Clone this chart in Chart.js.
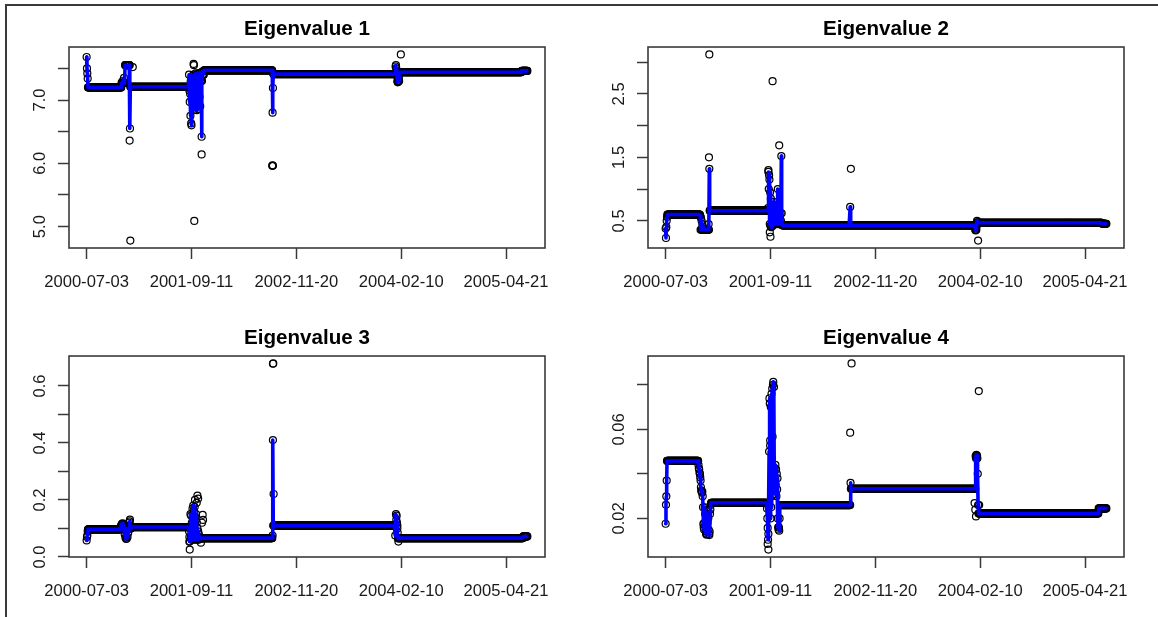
<!DOCTYPE html>
<html>
<head>
<meta charset="utf-8">
<script src="https://cdn.jsdelivr.net/npm/chart.js@4/dist/chart.umd.min.js"></script>
<style>
  html, body { margin: 0; padding: 0; background: #fff; }
  #page { position: relative; width: 1158px; height: 617px; overflow: hidden; }
  #page canvas { position: absolute; }
  #frame { position: absolute; left: 5px; top: 4px; width: 1200px; height: 700px;
           border-top: 2px solid #3a3a3a; border-left: 2px solid #3a3a3a; pointer-events: none; }
</style>
</head>
<body>
<div id="page">
  <canvas id="eig1" width="579" height="309" style="left:0;top:0"></canvas>
  <canvas id="eig2" width="579" height="309" style="left:579px;top:0"></canvas>
  <canvas id="eig3" width="579" height="309" style="left:0;top:309px"></canvas>
  <canvas id="eig4" width="579" height="309" style="left:579px;top:309px"></canvas>
  <div id="frame"></div>
</div>
<script>
// ---------------------------------------------------------------
// observations and axis labels
// ---------------------------------------------------------------
const N_OBS = 1262;

const xTickIdx = [1, 301, 601, 901, 1201];
const xTickLabels = ['2000-07-03', '2001-09-11', '2002-11-20', '2004-02-10', '2005-04-21'];

const titles = ['Eigenvalue 1', 'Eigenvalue 2', 'Eigenvalue 3', 'Eigenvalue 4'];

const yTicks1 = [5.0, 5.5, 6.0, 6.5, 7.0, 7.5];
const yLabels1 = ['5.0', '', '6.0', '', '7.0', ''];
const yTicks2 = [0.5, 1.0, 1.5, 2.0, 2.5, 3.0];
const yLabels2 = ['0.5', '', '1.5', '', '2.5', ''];
const yTicks3 = [0.0, 0.1, 0.2, 0.3, 0.4, 0.5, 0.6];
const yLabels3 = ['0.0', '', '0.2', '', '0.4', '', '0.6'];
const yTicks4 = [0.02, 0.04, 0.06, 0.08];
const yLabels4 = ['0.02', '', '0.06', ''];

// levels: [from, to, value] runs of a flat regime
// moves:  [index, value] observations that also carry the blue line
// outliers: [index, value] observations shown as circles only
const levels1 = [
  [1, 100, 7.20], [101, 110, 7.27], [111, 124, 7.55], [125, 292, 7.21],
  [293, 336, 7.40], [337, 532, 7.47], [533, 888, 7.41], [889, 1245, 7.44], [1246, 1262, 7.46]
];
const moves1 = [
  [1, 7.68], [2, 7.50], [3, 7.42], [4, 7.34], [104, 7.30], [108, 7.35], [125, 6.55],
  [293, 7.21], [295, 7.15], [296, 6.97], [297, 7.10], [298, 6.75], [299, 7.30], [300, 6.63],
  [301, 6.60], [302, 7.25], [303, 7.38], [304, 6.95], [305, 7.35], [306, 7.05], [307, 7.40],
  [308, 6.90], [309, 7.30], [310, 6.85], [311, 7.38], [312, 6.88], [313, 7.42], [314, 7.00],
  [315, 7.35], [316, 6.84], [317, 7.40], [318, 6.95], [319, 7.30], [320, 7.10], [321, 7.42],
  [322, 6.86], [323, 7.38], [324, 7.05], [325, 7.43], [326, 6.90], [327, 7.35], [328, 7.30],
  [329, 7.32], [330, 6.42], [331, 7.30], [332, 7.45],
  [533, 6.80], [534, 7.19],
  [885, 7.53], [886, 7.55], [887, 7.50], [888, 7.45], [889, 7.38], [890, 7.30], [891, 7.28],
  [892, 7.30], [893, 7.29], [894, 7.35], [895, 7.30], [896, 7.40]
];
const outliers1 = [
  [124, 6.36], [126, 4.78], [133, 7.52],
  [307, 7.57], [308, 7.55], [309, 5.09], [330, 6.14],
  [532, 5.96], [533, 5.97], [534, 5.96],
  [900, 7.72]
];

const levels2 = [
  [1, 99, 0.60], [100, 125, 0.36], [126, 292, 0.66], [293, 333, 0.60],
  [334, 887, 0.43], [888, 1249, 0.47], [1250, 1262, 0.455]
];
const moves2 = [
  [1, 0.38], [2, 0.23], [3, 0.40], [4, 0.50], [5, 0.56],
  [100, 0.58], [102, 0.55], [104, 0.50], [106, 0.45], [108, 0.40], [110, 0.37],
  [124, 0.45], [126, 1.32],
  [293, 0.66], [294, 0.70], [295, 1.27], [296, 1.00], [297, 1.22], [298, 1.15], [299, 0.45],
  [300, 0.95], [301, 0.42], [302, 0.85], [303, 0.40], [304, 0.80], [305, 0.45], [306, 0.75],
  [307, 0.42], [308, 0.70], [309, 0.44], [310, 0.80], [311, 0.48], [312, 0.62], [313, 0.45],
  [314, 0.75], [315, 0.50], [316, 0.60], [317, 0.45], [318, 0.70], [319, 0.48], [320, 0.62],
  [321, 0.45], [322, 1.00], [323, 0.50], [324, 0.62], [325, 0.45], [326, 0.60], [327, 0.48],
  [328, 0.55], [329, 0.45], [330, 0.62], [331, 0.50], [332, 1.52], [333, 0.62],
  [529, 0.72],
  [886, 0.40], [887, 0.36], [888, 0.35], [889, 0.38], [890, 0.36], [891, 0.42], [892, 0.50], [893, 0.48]
];
const outliers2 = [
  [125, 1.50], [126, 3.12],
  [295, 1.30], [299, 0.32], [301, 0.25], [307, 2.70], [326, 1.69],
  [531, 1.32],
  [895, 0.19]
];

const levels3 = [
  [1, 97, 0.097], [98, 128, 0.100], [129, 292, 0.105], [293, 330, 0.065],
  [331, 533, 0.066], [534, 889, 0.110], [890, 1249, 0.066], [1250, 1262, 0.072]
];
const moves3 = [
  [1, 0.058], [2, 0.070], [3, 0.075], [4, 0.090],
  [98, 0.105], [100, 0.112], [102, 0.116], [104, 0.118], [106, 0.112], [108, 0.095],
  [110, 0.080], [112, 0.068], [114, 0.063], [116, 0.065], [118, 0.070], [120, 0.085],
  [122, 0.100], [124, 0.125], [126, 0.110],
  [293, 0.105], [294, 0.090], [295, 0.070], [296, 0.055], [297, 0.100], [298, 0.150],
  [299, 0.070], [300, 0.145], [301, 0.060], [302, 0.120], [303, 0.065], [304, 0.170],
  [305, 0.060], [306, 0.180], [307, 0.065], [308, 0.160], [309, 0.070], [310, 0.175],
  [311, 0.065], [312, 0.140], [313, 0.060], [314, 0.150], [315, 0.065], [316, 0.120],
  [317, 0.070], [318, 0.100], [319, 0.065], [320, 0.090], [321, 0.060], [322, 0.080],
  [323, 0.065], [324, 0.070],
  [533, 0.075], [534, 0.410],
  [884, 0.075], [885, 0.110], [886, 0.150], [887, 0.130], [888, 0.145], [889, 0.120],
  [890, 0.100], [891, 0.085], [892, 0.065]
];
const outliers3 = [
  [123, 0.120], [125, 0.131],
  [295, 0.053], [296, 0.026], [311, 0.200], [316, 0.190], [318, 0.215], [320, 0.205],
  [328, 0.050], [331, 0.120], [333, 0.148], [334, 0.130],
  [534, 0.678], [535, 0.679], [536, 0.221],
  [890, 0.110], [893, 0.054]
];

const levels4 = [
  [1, 94, 0.0458], [95, 130, 0.0300], [131, 289, 0.0270], [290, 328, 0.0300],
  [329, 529, 0.0260], [530, 887, 0.0333], [888, 896, 0.0300], [897, 1239, 0.0222],
  [1240, 1262, 0.0245]
];
const moves4 = [
  [1, 0.0176], [2, 0.0261], [3, 0.0299], [4, 0.0370],
  [95, 0.0440], [96, 0.0425], [97, 0.0420], [98, 0.0405], [99, 0.0400], [100, 0.0385],
  [101, 0.0370], [102, 0.0340], [103, 0.0325], [104, 0.0320], [105, 0.0315], [106, 0.0320],
  [107, 0.0300], [108, 0.0250], [109, 0.0175], [110, 0.0160], [111, 0.0150], [112, 0.0180],
  [113, 0.0250], [114, 0.0220], [115, 0.0160], [116, 0.0140], [117, 0.0130], [118, 0.0127],
  [119, 0.0130], [120, 0.0140], [121, 0.0180], [122, 0.0220], [123, 0.0200], [124, 0.0150],
  [125, 0.0130], [126, 0.0125], [127, 0.0140], [128, 0.0220], [129, 0.0240], [130, 0.0260],
  [290, 0.0270], [291, 0.0245], [292, 0.0200], [293, 0.0157], [294, 0.0104], [295, 0.0130],
  [296, 0.0250], [297, 0.0500], [298, 0.0739], [299, 0.0716], [300, 0.0527], [301, 0.0200],
  [302, 0.0700], [303, 0.0250], [304, 0.0760], [305, 0.0300], [306, 0.0783], [307, 0.0567],
  [308, 0.0800], [309, 0.0813], [310, 0.0400], [311, 0.0790], [312, 0.0350], [313, 0.0425],
  [314, 0.0310], [315, 0.0440], [316, 0.0350], [317, 0.0420], [318, 0.0300], [319, 0.0400],
  [320, 0.0330], [321, 0.0380], [322, 0.0200], [323, 0.0160], [324, 0.0150], [325, 0.0160],
  [326, 0.0145], [327, 0.0200], [328, 0.0260],
  [530, 0.0360],
  [887, 0.0333], [888, 0.0480], [889, 0.0470], [890, 0.0485], [891, 0.0475], [892, 0.0482],
  [893, 0.0470], [894, 0.0400], [895, 0.0260], [896, 0.0222]
];
const outliers4 = [
  [293, 0.0085], [295, 0.0060], [300, 0.0550],
  [529, 0.0585], [533, 0.0896],
  [885, 0.0269], [887, 0.0239], [889, 0.0209], [897, 0.0772], [898, 0.0260]
];

// per-panel y label padding (wider labels on the last panel)
const yLabelPad = [6.5, 6.5, 6.5, 1.8];

// ---------------------------------------------------------------
// helpers
// ---------------------------------------------------------------
function buildSeries(levels, moves) {
  const ys = new Array(N_OBS + 1);
  levels.forEach(([a, b, v]) => { for (let i = a; i <= b; i++) ys[i] = v; });
  moves.forEach(([i, v]) => { ys[i] = v; });
  const pts = [];
  for (let i = 1; i <= N_OBS; i++) pts.push({ x: i, y: ys[i] });
  return pts;
}

// R style axis range: data range stretched by 4% on each side
function padRange(lo, hi) {
  const d = (hi - lo) * 0.04;
  return [lo - d, hi + d];
}

const boxFrame = {
  id: 'boxFrame',
  afterDraw(chart) {
    const { ctx, chartArea: a } = chart;
    ctx.save();
    ctx.strokeStyle = '#3a3a3a';
    ctx.lineWidth = 1.6;
    ctx.strokeRect(a.left, a.top, a.right - a.left, a.bottom - a.top);
    ctx.restore();
  }
};

const axisFont = { family: 'Liberation Sans, Arial, sans-serif', size: 16.6 };
const inkColor = '#1a1a1a';

function drawPanel(canvasId, title, levels, moves, outliers, yTicks, yLabels, yPad) {
  const line = buildSeries(levels, moves);
  const points = line.concat(outliers.map(([i, v]) => ({ x: i, y: v })));

  const ys = points.map(p => p.y);
  const [yMin, yMax] = padRange(Math.min(...ys), Math.max(...ys));
  const [xMin, xMax] = padRange(1, N_OBS);

  new Chart(document.getElementById(canvasId), {
    type: 'scatter',
    data: {
      datasets: [
        {
          data: line,
          showLine: true,
          borderColor: '#0000ff',
          borderWidth: 3.6,
          borderCapStyle: 'round',
          borderJoinStyle: 'round',
          pointRadius: 0,
          order: 0
        },
        {
          data: points,
          showLine: false,
          pointRadius: 3.5,
          pointBorderWidth: 1.2,
          pointBorderColor: '#000',
          pointBackgroundColor: 'rgba(0,0,0,0)',
          order: 1
        }
      ]
    },
    options: {
      responsive: false,
      animation: false,
      devicePixelRatio: 1,
      layout: { padding: { left: 0, right: 34, top: 0, bottom: 0 } },
      plugins: {
        legend: { display: false },
        tooltip: { enabled: false },
        title: {
          display: true,
          text: title,
          fullSize: false,
          color: '#000',
          font: { family: 'Liberation Sans, Arial, sans-serif', size: 20.6, weight: 'bold' },
          padding: { top: 17, bottom: 5.3 }
        }
      },
      scales: {
        x: {
          type: 'linear',
          min: xMin,
          max: xMax,
          afterBuildTicks: s => { s.ticks = xTickIdx.map(v => ({ value: v })); },
          afterFit: s => { s.height = 61; },
          border: { display: false },
          grid: {
            drawOnChartArea: false, drawTicks: true, tickLength: 11,
            tickColor: '#3a3a3a', tickWidth: 1.5
          },
          ticks: {
            autoSkip: false, maxRotation: 0, padding: 13.5,
            font: axisFont, color: inkColor,
            callback: v => xTickLabels[xTickIdx.indexOf(v)]
          }
        },
        y: {
          min: yMin,
          max: yMax,
          afterBuildTicks: s => { s.ticks = yTicks.map(v => ({ value: v })); },
          afterFit: s => { s.width = 69; },
          border: { display: false },
          grid: {
            drawOnChartArea: false, drawTicks: true, tickLength: 11,
            tickColor: '#3a3a3a', tickWidth: 1.5
          },
          ticks: {
            minRotation: 90, maxRotation: 90, crossAlign: 'center', padding: yPad,
            font: axisFont, color: inkColor,
            callback: v => yLabels[yTicks.indexOf(v)]
          }
        }
      }
    },
    plugins: [boxFrame]
  });
}

drawPanel('eig1', titles[0], levels1, moves1, outliers1, yTicks1, yLabels1, yLabelPad[0]);
drawPanel('eig2', titles[1], levels2, moves2, outliers2, yTicks2, yLabels2, yLabelPad[1]);
drawPanel('eig3', titles[2], levels3, moves3, outliers3, yTicks3, yLabels3, yLabelPad[2]);
drawPanel('eig4', titles[3], levels4, moves4, outliers4, yTicks4, yLabels4, yLabelPad[3]);
</script>
</body>
</html>
